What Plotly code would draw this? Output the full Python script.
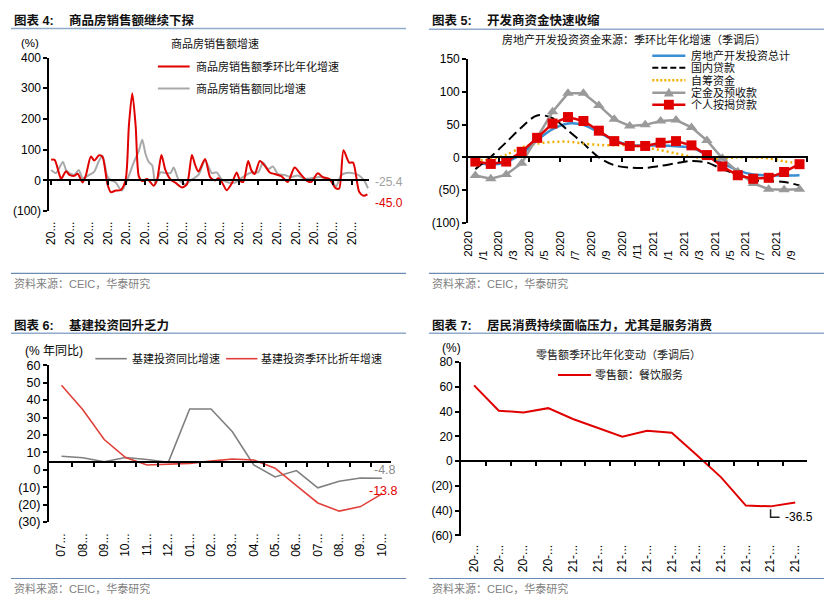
import plotly.graph_objects as go

W, H = 832, 606
FONT = "Arial, Liberation Sans, Noto Sans CJK SC, sans-serif"
RED = "#E00000"

# ---------------- data ----------------
# Chart 4: commodity housing sales growth (decimal year, %)
sales_qoq_t = [2005.00, 2005.18, 2005.44, 2005.53, 2005.79, 2005.97, 2006.23, 2006.41, 2006.67, 2006.85,
               2007.11, 2007.29, 2007.55, 2007.73, 2007.99, 2008.17, 2008.43, 2008.70, 2008.96, 2009.13,
               2009.31, 2009.49, 2009.66, 2009.84, 2010.10, 2010.45, 2010.63, 2010.86, 2011.07, 2011.34,
               2011.60, 2011.95, 2012.22, 2012.48, 2012.66, 2012.83, 2013.18, 2013.45, 2013.71, 2013.89,
               2014.07, 2014.33, 2014.59, 2014.86, 2015.03, 2015.21, 2015.47, 2015.65, 2015.82, 2016.09,
               2016.35, 2016.62, 2016.88, 2017.23, 2017.58, 2017.94, 2018.29, 2018.64, 2018.82, 2019.17,
               2019.43, 2019.78, 2020.14, 2020.31, 2020.54, 2020.84, 2021.05, 2021.37, 2021.60, 2021.81]
sales_qoq = [67, 67, 18, 5, 30, 18, 15, 22, -7, 18,
             78, 65, 82, 77, -12, -38, -33, -31, 3, 178,
             284, 178, 13, -2, 5, -17, 3, 83, 34, 3,
             -7, -23, -12, 83, 49, 29, 70, 11, 0, 7,
             -5, -32, -11, 26, 0, -5, 63, 32, 21, 63,
             48, 26, 21, 14, -5, 42, 18, -3, -5, 23,
             11, 5, -26, -26, 98, 58, 58, -37, -50, -45.0]
sales_yoy_t = [2005.00, 2005.26, 2005.62, 2005.79, 2005.97, 2006.23, 2006.46, 2006.67, 2007.02, 2007.29,
               2007.55, 2007.73, 2007.99, 2008.17, 2008.43, 2008.75, 2009.05, 2009.40, 2009.66, 2009.84,
               2010.02, 2010.19, 2010.37, 2010.54, 2010.81, 2011.07, 2011.34, 2011.51, 2011.77, 2012.13,
               2012.48, 2012.83, 2013.18, 2013.54, 2013.80, 2014.07, 2014.41, 2014.77, 2014.94, 2015.30,
               2015.65, 2016.00, 2016.26, 2016.53, 2016.79, 2017.05, 2017.41, 2017.76, 2018.11, 2018.46,
               2018.82, 2019.26, 2019.69, 2019.96, 2020.14, 2020.40, 2020.67, 2021.10, 2021.37, 2021.63, 2021.84]
sales_yoy = [34, 24, 60, 34, 24, 18, 34, 8, 18, 29,
             65, 80, 13, 1, -7, -33, 3, 60, 96, 132,
             85, 60, 49, -12, 26, 24, 24, 42, 3, -12,
             3, 18, 65, 24, 26, 3, -7, -7, 0, 16,
             26, 26, 58, 37, 45, 21, 18, 11, 16, 5,
             7, 11, 5, -5, -21, 16, 24, 23, 16, 0, -25.4]
years4 = list(range(2005, 2022))
year_labels4 = ["20..."] * len(years4)
y4_vals = [-100, 0, 100, 200, 300, 400]
y4_text = ["(100)", "0", "100", "200", "300", "400"]

# Chart 5: developer funding sources, QoQ annualised (SA)
months5 = ["2020/%d" % m for m in range(1, 13)] + ["2021/%d" % m for m in range(1, 11)]
total5 = [-8, -11, -7, 5, 26, 43, 51.6, 49.6, 38, 25.8, 19, 18, 18, 17, 14.9, 3.5, -8.9, -19.8, -26.3, -27.3, -27.8, -27.3]
loan5 = [-18, 1, 23, 46, 64, 60, 41, 21, 0, -12, -15.5, -16, -13, -9, -5.5, -7.9, -17.9, -26.3, -34.7, -36.2, -37.6, -42.7]
selfraised5 = [-5, -3, 4, 15, 21, 23.5, 24, 21, 19, 18.3, 19, 15, 11, 6, 1, -1.5, -1.5, 0, 0, -1.5, -6, -9]
deposit5 = [-27.8, -32.7, -26.3, -8.9, 30, 69.5, 97.7, 97.7, 79.3, 58, 48, 49.6, 55.5, 57, 45.7, 25.8, -1.5, -22, -39.7, -48.6, -49.6, -48.6]
mortgage5 = [-6.4, -10, -6.4, 8.5, 29.8, 51.6, 61.5, 55.5, 40.7, 24.8, 17.4, 17.4, 22.3, 24.8, 18.3, 3.5, -13.9, -27.3, -32.7, -31.2, -22.3, -10.4]
names5 = ["房地产开发投资总计", "国内贷款", "自筹资金", "定金及预收款", "个人按揭贷款"]
NB = "\u00a0"
x5_tickvals = months5[0::2]
x5_ticktext = [m.split("/")[0] + "<br>/" + m.split("/")[1] + NB * (6 if len(m.split("/")[1]) == 1 else 4)
               for m in x5_tickvals]
y5_vals = [-100, -50, 0, 50, 100, 150]
y5_text = ["(100)", "(50)", "0", "50", "100", "150"]

# Chart 6: infrastructure investment
months6 = ["2020-07", "2020-08", "2020-09", "2020-10", "2020-11", "2020-12", "2021-01", "2021-02",
           "2021-03", "2021-04", "2021-05", "2021-06", "2021-07", "2021-08", "2021-09", "2021-10"]
infra_yoy = [7.8, 6.9, 4.6, 7.1, 5.9, 4.3, 34.9, 34.9, 21.8, 2.8, -4.1, -0.4, -10.3, -6.6, -4.7, -4.8]
infra_qoq = [48.5, 34.5, 17.4, 7.0, 2.8, 3.1, 3.7, 5.0, 6.2, 5.6, 0.9, -9.0, -19.0, -23.7, -21.1, -13.8]
x6_text = [m.split("-")[1] + "..." for m in months6]
y6_vals = [-30, -20, -10, 0, 10, 20, 30, 40, 50, 60]
y6_text = ["(30)", "(20)", "(10)", "0", "10", "20", "30", "40", "50", "60"]

# Chart 7: retail sales, catering services
months7 = ["2020-09", "2020-10", "2020-11", "2020-12"] + ["2021-%02d" % m for m in range(1, 11)]
catering = [61.1, 40.6, 39.3, 42.7, 34.0, 27.0, 19.7, 24.4, 22.8, 5.2, -13.1, -35.9, -36.5, -33.3]
x7_text = [m[2:4] + "-..." for m in months7]
y7_vals = [-60, -40, -20, 0, 20, 40, 60, 80]
y7_text = ["(60)", "(40)", "(20)", "0", "20", "40", "60", "80"]

# ---------------- geometry (pixels) ----------------
def fx(x):
    return x / W

def fy(y):
    return 1 - y / H

P4 = dict(l=43.5, r=366, t=51.7, b=209, xr=[2004.894, 2021.913], yr=[-100, 400])
P5 = dict(l=465.3, r=807.7, t=53.3, b=221, xr=[-0.48, 21.54], yr=[-100, 150])
P6 = dict(l=43, r=388.3, t=366.7, b=527.3, xr=[-0.6, 15.45], yr=[-30, 60])
P7 = dict(l=458.3, r=806.7, t=363.3, b=541, xr=[-0.53, 13.47], yr=[-60, 80])


def cross_pos(P, v):
    y0, y1 = fy(P["b"]), fy(P["t"])
    return y0 + (v - P["yr"][0]) / (P["yr"][1] - P["yr"][0]) * (y1 - y0)


fig = go.Figure()

# chart 4
fig.add_trace(go.Scatter(x=sales_yoy_t, y=sales_yoy, mode="lines", name="商品房销售额同比增速",
                         line=dict(color="#A9A9A9", width=2, shape="spline", smoothing=0.7),
                         xaxis="x", yaxis="y", hoverinfo="skip"))
fig.add_trace(go.Scatter(x=sales_qoq_t, y=sales_qoq, mode="lines", name="商品房销售额季环比年化增速",
                         line=dict(color=RED, width=2, shape="spline", smoothing=0.7),
                         xaxis="x", yaxis="y", hoverinfo="skip"))

# chart 5
fig.add_trace(go.Scatter(x=months5, y=total5, mode="lines", name=names5[0],
                         line=dict(color="#3A8ED2", width=2.5, shape="spline", smoothing=0.8),
                         xaxis="x2", yaxis="y2", hoverinfo="skip"))
fig.add_trace(go.Scatter(x=months5, y=loan5, mode="lines", name=names5[1],
                         line=dict(color="#000000", width=2, dash="10px,5px", shape="spline", smoothing=0.9),
                         xaxis="x2", yaxis="y2", hoverinfo="skip"))
fig.add_trace(go.Scatter(x=months5, y=selfraised5, mode="lines", name=names5[2],
                         line=dict(color="#F2AE00", width=2.5, dash="2px,3px", shape="spline", smoothing=0.8),
                         xaxis="x2", yaxis="y2", hoverinfo="skip"))
fig.add_trace(go.Scatter(x=months5, y=deposit5, mode="lines+markers", name=names5[3],
                         line=dict(color="#9A9A9A", width=2.5),
                         marker=dict(symbol="triangle-up", size=10, color="#9A9A9A"),
                         xaxis="x2", yaxis="y2", hoverinfo="skip"))
fig.add_trace(go.Scatter(x=months5, y=mortgage5, mode="lines+markers", name=names5[4],
                         line=dict(color=RED, width=2.5),
                         marker=dict(symbol="square", size=10, color=RED),
                         xaxis="x2", yaxis="y2", hoverinfo="skip"))

# chart 6
fig.add_trace(go.Scatter(x=months6, y=infra_yoy, mode="lines", name="基建投资同比增速",
                         line=dict(color="#7F7F7F", width=1.6), xaxis="x3", yaxis="y3", hoverinfo="skip"))
fig.add_trace(go.Scatter(x=months6, y=infra_qoq, mode="lines", name="基建投资季环比折年增速",
                         line=dict(color="#E0403A", width=1.6), xaxis="x3", yaxis="y3", hoverinfo="skip"))

# chart 7
fig.add_trace(go.Scatter(x=months7, y=catering, mode="lines", name="零售额：餐饮服务",
                         line=dict(color=RED, width=2), xaxis="x4", yaxis="y4", hoverinfo="skip"))

# invisible carriers for the crossing axes
for i, (xa, ya, P) in enumerate([("x5", "y", P4), ("x6", "y2", P5), ("x7", "y3", P6), ("x8", "y4", P7)]):
    fig.add_trace(go.Scatter(x=[sum(P["xr"]) / 2], y=[0], mode="markers", marker=dict(opacity=0, size=1),
                             xaxis=xa, yaxis=ya, hoverinfo="skip", showlegend=False))


def yax(P, vals, text, anchor, size=12):
    return dict(domain=[fy(P["b"]), fy(P["t"])], range=P["yr"], tickvals=vals, ticktext=text,
                showline=True, linecolor="#000", linewidth=1.6, ticks="outside", ticklen=4,
                tickwidth=1.5, tickcolor="#000", showgrid=False, zeroline=False, anchor=anchor,
                tickfont=dict(family=FONT, size=size, color="#000"), fixedrange=True)


def xax(P, vals, text, anchor, size=12, typ=None, standoff=6):
    d = dict(domain=[fx(P["l"]), fx(P["r"])], range=P["xr"], tickvals=vals, ticktext=text,
             tickangle=-90, showline=False, ticks="", showgrid=False, zeroline=False, anchor=anchor,
             tickfont=dict(family=FONT, size=size, color="#000"), fixedrange=True,
             ticklabelstandoff=standoff)
    if typ:
        d["type"] = typ
    return d


def cross_ax(P, over, ticks_at, v=0):
    return dict(domain=[fx(P["l"]), fx(P["r"])], range=P["xr"], overlaying=over, anchor="free",
                position=cross_pos(P, v), side="bottom", showline=True, linecolor="#000", linewidth=1.6,
                ticks="outside", ticklen=4, tickwidth=1.5, tickcolor="#000", tickvals=ticks_at,
                showticklabels=False, showgrid=False, zeroline=False, fixedrange=True)


layout = dict(
    width=W, height=H, margin=dict(l=0, r=0, t=0, b=0), showlegend=False,
    paper_bgcolor="white", plot_bgcolor="rgba(0,0,0,0)",
    xaxis=xax(P4, years4, year_labels4, "y", 12, standoff=7),
    yaxis=yax(P4, y4_vals, y4_text, "x"),
    xaxis2=xax(P5, x5_tickvals, x5_ticktext, "y2", 11.5, "category", standoff=5),
    yaxis2=yax(P5, y5_vals, y5_text, "x2", 12),
    xaxis3=xax(P6, months6, x6_text, "y3", 12, "category", standoff=8),
    yaxis3=yax(P6, y6_vals, y6_text, "x3", 12.5),
    xaxis4=xax(P7, months7, x7_text, "y4", 12, "category", standoff=6),
    yaxis4=yax(P7, y7_vals, y7_text, "x4", 12),
    xaxis5=cross_ax(P4, "x", years4),
    xaxis6=cross_ax(P5, "x2", [i + 1.5 for i in range(0, 21, 2)]),
    xaxis7=cross_ax(P6, "x3", [i + 0.5 for i in range(16)], v=4.4),
    xaxis8=cross_ax(P7, "x4", [i + 0.5 for i in range(14)]),
)
fig.update_layout(**layout)

shapes = []
anns = []


def hline(x0, x1, y, color, width=1.5, dash=None):
    ln = dict(color=color, width=width)
    if dash:
        ln["dash"] = dash
    shapes.append(dict(type="line", xref="paper", yref="paper", x0=fx(x0), x1=fx(x1), y0=fy(y), y1=fy(y), line=ln))


def text(t, x, y, size=11, color="#000", xanchor="left", family=FONT):
    anns.append(dict(text=t, x=fx(x), y=fy(y), xref="paper", yref="paper", showarrow=False,
                     xanchor=xanchor, yanchor="middle", font=dict(family=family, size=size, color=color)))


HEAD = "#8FAACB"
FOOT = "#6B8BB3"
SRC = "资料来源：CEIC，华泰研究"

# panel frames: titles, rules, sources
for (tx, ty, num, title, hx0, hx1, hy, fy_, sy) in [
    (6, 14, "图表 4:", "商品房销售额继续下探", 5, 403, 22, 272.7, 283.3),
    (427, 14, "图表 5:", "开发商资金快速收缩", 426, 824, 22.7, 272.7, 283.3),
    (6, 326, "图表 6:", "基建投资回升乏力", 5, 403, 334, 585, 595),
    (427, 326, "图表 7:", "居民消费持续面临压力，尤其是服务消费", 426, 824, 334, 585, 595),
]:
    text("<b>" + num + "</b>", tx, ty, 12.5, "#111")
    text("<b>" + title + "</b>", tx + 55, ty, 12.5, "#111")
    hline(hx0, hx1, hy, HEAD, 1.5)
    hline(hx0, hx1, fy_, FOOT, 1.2)
    text(SRC, tx, sy, 11, "#7F7F7F")

# chart 4 texts + legend
text("商品房销售额增速", 211, 37, 11, "#111", "center")
text("(%)", 24, 37, 11.5, "#000", "center")
hline(153, 185, 61, RED, 2)
text("商品房销售额季环比年化增速", 189.5, 61, 11, "#111")
hline(153, 185, 83.3, "#A9A9A9", 2)
text("商品房销售额同比增速", 189.5, 83.3, 11, "#111")
anns.append(dict(text="-25.4", x=sales_yoy_t[-1], y=sales_yoy[-1], xref="x", yref="y", showarrow=False,
                 xanchor="left", yanchor="middle", xshift=5, yshift=6,
                 font=dict(family=FONT, size=12, color="#A0A0A0")))
anns.append(dict(text="-45.0", x=sales_qoq_t[-1], y=sales_qoq[-1], xref="x", yref="y", showarrow=False,
                 xanchor="left", yanchor="middle", xshift=6, yshift=-8.5,
                 font=dict(family=FONT, size=12, color=RED)))
shapes.append(dict(type="line", xref="x", yref="y", xsizemode="pixel", xanchor=sales_yoy_t[-1],
                   x0=1, x1=19, y0=-40, y1=-40, line=dict(color="#A9A9A9", width=1.5)))

# chart 5 texts + legend
text("房地产开发投资资金来源：季环比年化增速（季调后）", 633, 33.5, 11, "#111", "center")
rows5 = [50, 62.3, 75, 87.7, 100]
styles5 = [("#3A8ED2", 2.5, None), ("#000000", 2, "6px,3px"), ("#F2AE00", 2.5, "2px,2px"),
           ("#9A9A9A", 2.5, None), (RED, 2.5, None)]
for ry, nm, (c, w, d) in zip(rows5, names5, styles5):
    hline(651, 684.3, ry, c, w, d)
    text(nm, 687.5, ry, 11, "#111")
cx = 667.7
ty_ = rows5[3]
shapes.append(dict(type="path", xref="paper", yref="paper",
                   path="M%f,%f L%f,%f L%f,%f Z" % (fx(cx - 5), fy(ty_ + 4), fx(cx + 5), fy(ty_ + 4), fx(cx), fy(ty_ - 5)),
                   fillcolor="#9A9A9A", line=dict(width=0)))
sy_ = rows5[4]
shapes.append(dict(type="rect", xref="paper", yref="paper", x0=fx(cx - 5), x1=fx(cx + 5), y0=fy(sy_ + 5), y1=fy(sy_ - 5),
                   fillcolor=RED, line=dict(width=0)))

# chart 6 texts + legend
text("(% 年同比)", 17, 351.7, 12, "#000")
hline(90, 121.7, 360, "#7F7F7F", 1.6)
text("基建投资同比增速", 125, 360, 11, "#111")
hline(221.7, 253.3, 360, "#E0403A", 1.6)
text("基建投资季环比折年增速", 255, 360, 11, "#111")
anns.append(dict(text="-4.8", x=len(months6) - 1, y=infra_yoy[-1], xref="x3", yref="y3", showarrow=False,
                 xanchor="left", yanchor="middle", xshift=-10, yshift=8.5,
                 font=dict(family=FONT, size=12.5, color="#8C8C8C")))
anns.append(dict(text="-13.8", x=len(months6) - 1, y=infra_qoq[-1], xref="x3", yref="y3", showarrow=False,
                 xanchor="left", yanchor="middle", xshift=-15, yshift=3,
                 font=dict(family=FONT, size=12.5, color=RED)))

# chart 7 texts + legend
text("(%)", 448.5, 349.3, 12, "#000", "center")
text("零售额季环比年化变动（季调后）", 617, 355.7, 11, "#222", "center")
hline(556, 589.3, 376.7, RED, 2)
text("零售额：餐饮服务", 591.5, 376.7, 11, "#111")
shapes.append(dict(type="path", xref="x4", yref="y4", xsizemode="pixel", ysizemode="pixel",
                   xanchor=12, yanchor=catering[12], path="M0,-3 L0,-11 L9,-11",
                   line=dict(color="#222", width=1.5)))
anns.append(dict(text="-36.5", x=12, y=catering[12], xref="x4", yref="y4", showarrow=False,
                 xanchor="left", yanchor="middle", xshift=12.5, yshift=-11,
                 font=dict(family=FONT, size=12, color="#000")))

fig.update_layout(shapes=shapes, annotations=anns)
fig.write_html("out.html")
